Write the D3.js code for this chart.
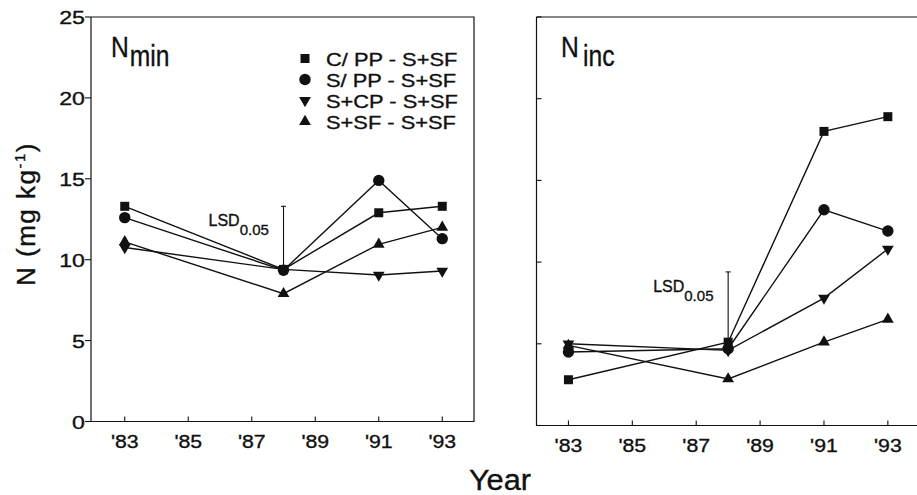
<!DOCTYPE html>
<html>
<head>
<meta charset="utf-8">
<script src="https://cdn.jsdelivr.net/npm/d3@7"></script>
<style>
  body { margin: 0; background: #fff; }
  text { font-family: "Liberation Sans", Arial, sans-serif; fill: #111; stroke: #111; stroke-width: 0.35px; }
</style>
</head>
<body>
<div id="chart"></div>
<script>
// data
var years = [83, 88, 91, 93]
var tickYears = [83, 85, 87, 89, 91, 93]
var yTicks = [0, 5, 10, 15, 20, 25]
var seriesNames = ["C/ PP - S+SF", "S/ PP - S+SF", "S+CP - S+SF", "S+SF - S+SF"]
var seriesSymbols = ["square", "circle", "down", "up"]

var nminCPP = [13.3, 9.4, 12.9, 13.3]
var nminSPP = [12.6, 9.35, 14.9, 11.3]
var nminSCP = [10.75, 9.4, 9.05, 9.3]
var nminSSF = [11.1, 7.9, 10.95, 12.0]

var nincCPP = [2.8, 5.1, 18.0, 18.9]
var nincSPP = [4.5, 4.7, 13.2, 11.9]
var nincSCP = [5.0, 4.6, 7.8, 10.8]
var nincSSF = [4.9, 2.85, 5.1, 6.5]

var lsdMin = [88, 9.4, 13.3]   // year, bottom, top
var lsdInc = [88, 5.0, 9.4]

var width = 917, height = 495

var svg = d3.select("#chart").append("svg")
    .attr("width", width)
    .attr("height", height)

// scanned figure looks a bit wider than normal, so text gets a small x stretch
function addText(parent, x, y, str, size, anchor, sx){
    return parent.append("text")
        .attr("transform", "translate(" + x + "," + y + ") scale(" + (sx || 1.15) + ",1)")
        .attr("text-anchor", anchor || "start")
        .style("font-size", size + "px")
        .text(str)
}

function drawMarker(g, kind, x, y){
    if(kind == "square"){
        g.append("rect").attr("x", x - 4.5).attr("y", y - 4.5).attr("width", 9).attr("height", 9).attr("fill", "#111")
    } else if(kind == "circle"){
        g.append("circle").attr("cx", x).attr("cy", y).attr("r", 5.7).attr("fill", "#111")
    } else {
        var sym = d3.symbol().type(d3.symbolTriangle).size(60)
        g.append("path").attr("d", sym)
            .attr("transform", "translate(" + x + "," + y + ")" + (kind == "down" ? " rotate(180)" : ""))
            .attr("fill", "#111")
    }
}

function drawPanel(opts){
    var g = svg.append("g")
    var x = d3.scaleLinear().domain([82, 94]).range(opts.xRange)
    var y = d3.scaleLinear().domain([0, 25]).range(opts.yRange)
    var left = opts.frame[0], right = opts.frame[1]
    var bottom = y(0), top = y(25)

    // frame
    g.append("path")
        .attr("d", "M" + left + "," + top + "H" + right + (opts.closed ? "V" + bottom : "M" + right + "," + bottom) + "H" + left + "V" + top)
        .attr("fill", "none").attr("stroke", "#111").attr("stroke-width", 1.2)

    // x ticks point inward
    tickYears.forEach(function(t){
        g.append("line").attr("x1", x(t)).attr("x2", x(t)).attr("y1", bottom).attr("y2", bottom - 5)
            .attr("stroke", "#111").attr("stroke-width", 1.1)
        addText(g, x(t), bottom + 26, "'" + t, 19, "middle", 1.12)
    })

    // y ticks
    yTicks.forEach(function(t){
        if(opts.yLabels){
            g.append("line").attr("x1", left - 6).attr("x2", left).attr("y1", y(t)).attr("y2", y(t))
                .attr("stroke", "#111").attr("stroke-width", 1.1)
            addText(g, left - 6, y(t) + 7, t, 19, "end", 1.22)
        } else {
            g.append("line").attr("x1", left).attr("x2", left + 5).attr("y1", y(t)).attr("y2", y(t))
                .attr("stroke", "#111").attr("stroke-width", 1.1)
        }
    })

    var line = d3.line()
        .x(function(d, i){ return x(years[i]) })
        .y(function(d){ return y(d) })

    opts.series.forEach(function(vals, k){
        g.append("path").attr("d", line(vals))
            .attr("fill", "none").attr("stroke", "#111").attr("stroke-width", 1.4)
    })
    opts.series.forEach(function(vals, k){
        vals.forEach(function(v, i){ drawMarker(g, seriesSymbols[k], x(years[i]), y(v)) })
    })

    // LSD bar
    var lx = x(opts.lsd[0])
    g.append("line").attr("x1", lx).attr("x2", lx).attr("y1", y(opts.lsd[1])).attr("y2", y(opts.lsd[2]))
        .attr("stroke", "#111").attr("stroke-width", 1.1)
    g.append("line").attr("x1", lx - 2.5).attr("x2", lx + 2.5).attr("y1", y(opts.lsd[2])).attr("y2", y(opts.lsd[2]))
        .attr("stroke", "#111").attr("stroke-width", 1.1)
    var lt = addText(g, lx - 75, y(opts.lsd[2]) + 20, "LSD", 16, "start", 1.0)
    lt.append("tspan").attr("dy", 9).style("font-size", "15px").text("0.05")

    // panel title
    var tt = addText(g, opts.titleX, 57, "N", 29, "start", 0.85)
    tt.append("tspan").attr("dx", opts.titleGap).attr("dy", 9).text(opts.sub)

    return {x: x, y: y}
}

drawPanel({
    xRange: [93, 474], yRange: [421.5, 17], frame: [91, 474], closed: true, yLabels: true,
    series: [nminCPP, nminSPP, nminSCP, nminSSF], lsd: lsdMin,
    titleX: 111, titleGap: 1, sub: "min"
})
drawPanel({
    xRange: [536.5, 919.8], yRange: [425.5, 17], frame: [536.5, 925], closed: false, yLabels: false,
    series: [nincCPP, nincSPP, nincSCP, nincSSF], lsd: lsdInc,
    titleX: 561, titleGap: 5, sub: "inc"
})

// legend
var legend = svg.append("g")
seriesNames.forEach(function(name, i){
    var cy = 58.5 + i * 21
    drawMarker(legend, seriesSymbols[i], 305, cy)
    addText(legend, 326, cy + 7, name, 19, "start", 1.15)
})

// axis titles
addText(svg, 500, 490, "Year", 29, "middle", 1.06)
var yl = svg.append("text")
    .attr("transform", "translate(35,214) rotate(-90)")
    .attr("text-anchor", "middle")
    .style("font-size", "26px")
    .style("letter-spacing", "1.5px")
    .text("N (mg kg")
yl.append("tspan").attr("dy", -10).style("font-size", "15px").text("-1")
yl.append("tspan").attr("dy", 10).text(")")
</script>
</body>
</html>
